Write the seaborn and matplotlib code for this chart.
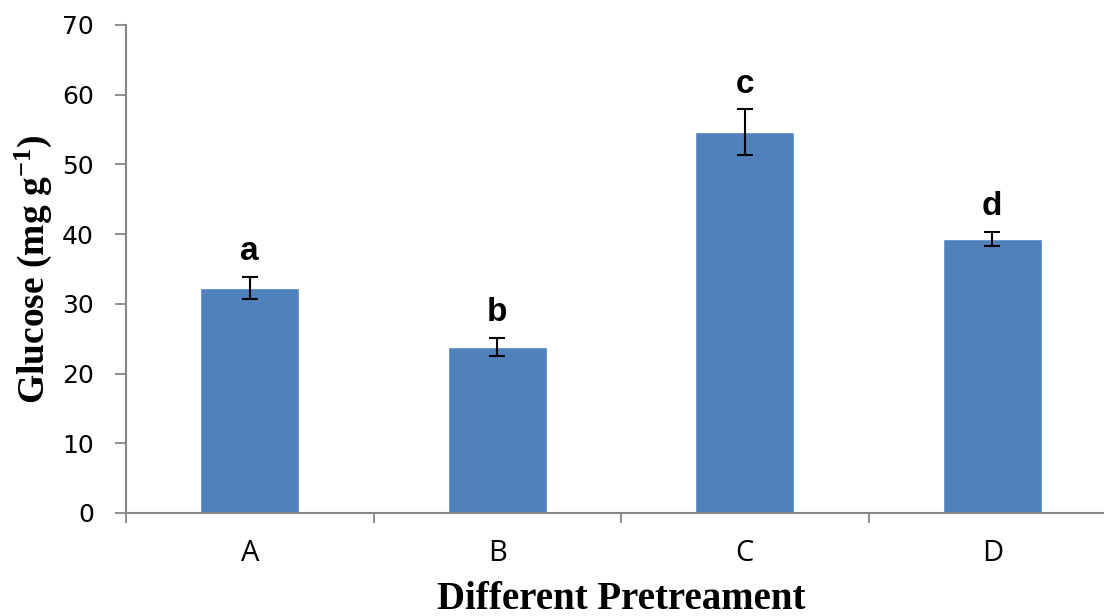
import pandas as pd
import matplotlib
matplotlib.use("Agg")
import matplotlib.pyplot as plt
import seaborn as sns

# data
treatments = ["A", "B", "C", "D"]
glucose = [32.3, 23.8, 54.6, 39.3]
glucose_sd = [1.6, 1.3, 3.3, 1.0]
sig_letters = ["a", "b", "c", "d"]

df = pd.DataFrame({"treatment": treatments, "glucose": glucose})

sns.set_theme(style="white")
plt.rcParams["font.family"] = ["DejaVu Sans"]
plt.rcParams["mathtext.default"] = "regular"
plt.rcParams["text.color"] = "black"
plt.rcParams["axes.labelcolor"] = "black"

fig = plt.figure(figsize=(11.04, 6.16), dpi=100)
ax = fig.add_axes([126 / 1104, 103 / 616, 990 / 1104, 488 / 616])

sns.barplot(data=df, x="treatment", y="glucose", color="#4F81BD",
            saturation=1, width=0.4, errorbar=None, ax=ax)
ax.errorbar(range(len(treatments)), glucose, yerr=glucose_sd, fmt="none",
            ecolor="black", elinewidth=1.5, capsize=6, capthick=1.5)

# significance letters above the error bars
for i, (v, e, s) in enumerate(zip(glucose, glucose_sd, sig_letters)):
    ax.text(i, v + e + 1.4, s, ha="center", va="bottom", color="black",
            fontsize=24, fontweight="bold", family="Liberation Sans")

ax.set_xlim(-0.5, 3.5)
ax.set_ylim(0, 70)
ax.set_yticks(range(0, 71, 10))
ax.tick_params(axis="y", direction="out", length=8, width=1.3, color="#868686",
               labelcolor="black", labelsize=18, pad=15, left=True)
ax.set_xticks(range(4))
ax.set_xticklabels(treatments, family="Open Sans", fontsize=21)
ax.tick_params(axis="x", length=0, pad=19, labelcolor="black")
# boundary ticks between categories
ax.set_xticks([-0.5, 0.5, 1.5, 2.5, 3.5], minor=True)
ax.tick_params(axis="x", which="minor", direction="out", length=7.5, width=1.3,
               color="#868686", bottom=True)

for side in ["top", "right"]:
    ax.spines[side].set_visible(False)
for side in ["left", "bottom"]:
    ax.spines[side].set_color("#868686")
    ax.spines[side].set_linewidth(1.5)

ax.set_xlabel("Different Pretreament", family="Liberation Serif",
              fontweight="bold", fontsize=28, labelpad=9)
ax.set_ylabel("Glucose (mg g$^{-1}$)", family="Liberation Serif",
              fontweight="bold", fontsize=27, labelpad=6)

fig.savefig("out.png", dpi=100)
